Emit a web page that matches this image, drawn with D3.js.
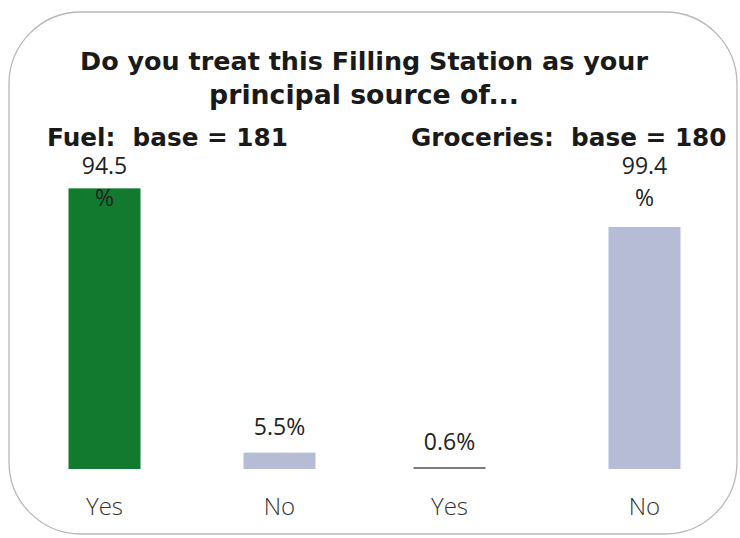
<!DOCTYPE html>
<html>
<head>
<meta charset="utf-8">
<script src="https://cdn.jsdelivr.net/npm/d3@7"></script>
<style>
  body { margin: 0; background: #fff; }
</style>
</head>
<body>
<div id="canvas"></div>
<script>
var titleLines = ["Do you treat this Filling Station as your", "principal source of..."]
var groups = ["Fuel", "Groceries"]
var bases = [181, 180]
var answers = ["Yes", "No"]
var fuelValues = [94.5, 5.5]
var groceryValues = [0.6, 99.4]

var width = 740
var height = 538
var baseline = 469

var svg = d3.select("#canvas")
    .append("svg")
    .attr("width", width)
    .attr("height", height)

// rounded frame
svg.append("rect")
    .attr("x", 9)
    .attr("y", 12)
    .attr("width", 728)
    .attr("height", 522)
    .attr("rx", 72)
    .attr("ry", 72)
    .attr("fill", "#fff")
    .attr("stroke", "#b8b8b8")
    .attr("stroke-width", 1.3)

// fit a text element to a target width by changing its font size
function fitText(sel, target) {
    var size = parseFloat(sel.attr("font-size"))
    var w = sel.node().getComputedTextLength()
    var s = size * target / w
    sel.attr("font-size", s)
    return s
}

var titleFont = "'DejaVu Sans', sans-serif"
var titleTargets = [568, 310]
titleLines.forEach(function (line, i) {
    var t = svg.append("text")
        .attr("x", 364)
        .attr("y", 70 + i * 34)
        .attr("text-anchor", "middle")
        .attr("font-family", titleFont)
        .attr("font-weight", "bold")
        .attr("font-size", 22)
        .attr("fill", "#1a1a1a")
        .text(line)
    fitText(t, titleTargets[i])
})

// one panel per group, each with its own scale (as in the source slide)
var panels = [
    { name: groups[0], base: bases[0], values: fuelValues, range: [17, 367], top: 172, colors: ["#127a2e", "#b6bcd5"], headX: 47 },
    { name: groups[1], base: bases[1], values: groceryValues, range: [352, 742], top: 225.5, colors: ["#7c7c7c", "#b6bcd5"], headX: 411 }
]

var headSize = null

panels.forEach(function (p) {
    var data = answers.map(function (a, i) { return { answer: a, value: p.values[i] } })

    var x = d3.scaleBand()
        .domain(answers)
        .range(p.range)
        .paddingInner(0.6)
        .paddingOuter(0.3)

    var y = d3.scaleLinear()
        .domain([0, 100])
        .range([baseline, p.top])

    var g = svg.append("g")

    var head = g.append("text")
        .attr("x", p.headX)
        .attr("y", 146)
        .attr("font-family", titleFont)
        .attr("font-weight", "bold")
        .attr("font-size", 22)
        .attr("fill", "#1a1a1a")
        .attr("xml:space", "preserve")
        .style("white-space", "pre")
        .text(p.name + ":  base = " + p.base)
    // both headers share the size that fits "Fuel:  base = 181"
    if (headSize === null) headSize = fitText(head, 241)
    else head.attr("font-size", headSize)

    var bw = 72
    g.selectAll(".bar")
        .data(data)
        .enter()
        .append("rect")
        .attr("class", "bar")
        .attr("x", function (d) { return x(d.answer) + x.bandwidth() / 2 - bw / 2 })
        .attr("y", function (d) { return Math.min(y(d.value), baseline - 2) })
        .attr("width", bw)
        .attr("height", function (d) { return Math.max(baseline - y(d.value), 2) })
        .attr("fill", function (d, i) { return p.colors[i] })

    // value labels: tall bars wrap the % sign onto a second line
    g.selectAll(".val")
        .data(data)
        .enter()
        .append("text")
        .attr("class", "val")
        .attr("text-anchor", "middle")
        .attr("font-family", "'Open Sans', sans-serif")
        .attr("font-size", 23)
        .attr("fill", "#222")
        .each(function (d) {
            var t = d3.select(this)
            var cx = x(d.answer) + x.bandwidth() / 2
            if (d.value > 50) {
                t.append("tspan").attr("x", cx).attr("y", 174).text(d.value.toFixed(1))
                t.append("tspan").attr("x", cx).attr("y", 206).text("%")
            } else {
                t.append("tspan").attr("x", cx).attr("y", y(d.value) - 18).text(d.value.toFixed(1) + "%")
            }
        })

    var axis = g.append("g")
        .attr("transform", "translate(0," + baseline + ")")
        .call(d3.axisBottom(x).tickSize(0).tickPadding(29))
    axis.select(".domain").remove()
    axis.selectAll("text")
        .attr("font-family", "'Open Sans', sans-serif")
        .attr("font-size", 24)
        .attr("font-weight", 300)
        .attr("fill", "#333")
})
</script>
</body>
</html>
